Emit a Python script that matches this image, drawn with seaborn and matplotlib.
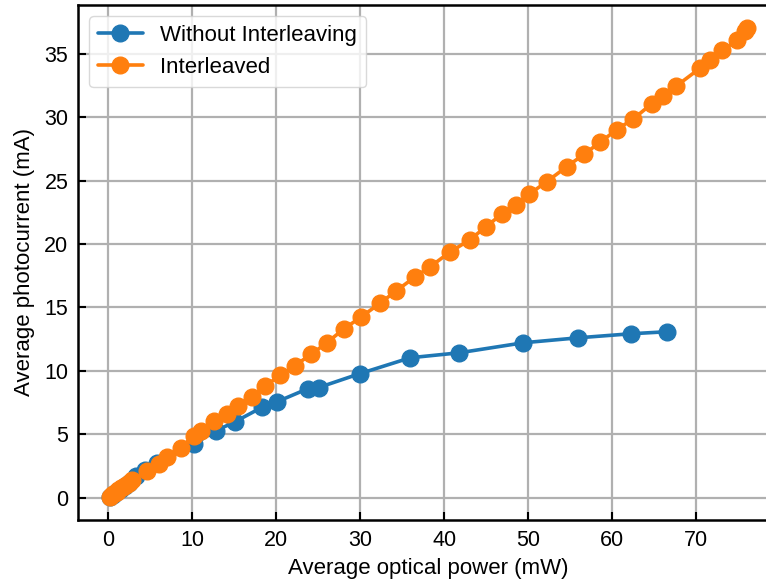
import matplotlib
matplotlib.use("Agg")
import matplotlib.pyplot as plt
import seaborn as sns
import pandas as pd

# Without Interleaving
power_without = [0.2, 0.5, 0.8, 1.1, 1.5, 2.0, 2.5, 3.25, 4.4, 5.83,
                 10.18, 12.76, 15.05, 18.31, 20.05, 23.78, 25.04, 29.96,
                 35.95, 41.77, 49.4, 55.9, 62.2, 66.5]
current_without = [0.08, 0.22, 0.37, 0.5, 0.7, 0.93, 1.17, 1.71, 2.2, 2.76,
                   4.21, 5.26, 5.97, 7.13, 7.55, 8.6, 8.68, 9.78,
                   11.03, 11.42, 12.21, 12.6, 12.92, 13.08]

# Interleaved
power_inter = [0.2, 0.4, 0.6, 0.8, 1.0, 1.2, 1.5, 1.8, 2.1, 2.4, 2.8,
               4.64, 6.02, 7.02, 8.6, 10.18, 11.0, 12.56, 14.07, 15.46,
               17.12, 18.70, 20.49, 22.16, 24.18, 26.04, 28.01, 30.12,
               32.30, 34.28, 36.54, 38.32, 40.62, 43.0, 44.98, 46.85,
               48.55, 50.1, 52.2, 54.58, 56.67, 58.54, 60.52, 62.5,
               64.68, 66.06, 67.6, 70.43, 71.62, 73.08, 74.79, 75.84, 76.0]
current_inter = [0.08, 0.18, 0.28, 0.38, 0.47, 0.57, 0.72, 0.86, 1.0, 1.15, 1.35,
                 2.11, 2.68, 3.21, 3.95, 4.87, 5.26, 6.05, 6.58, 7.24,
                 7.95, 8.82, 9.66, 10.39, 11.32, 12.23, 13.29, 14.26,
                 15.31, 16.31, 17.42, 18.21, 19.34, 20.32, 21.37, 22.37,
                 23.10, 23.93, 24.92, 26.10, 27.10, 28.02, 29.02, 29.87,
                 31.05, 31.7, 32.45, 33.86, 34.47, 35.26, 36.05, 36.76, 37.0]

labels = ["Without Interleaving", "Interleaved"]
colors = ["#1f77b4", "#ff7f0e"]

sns.set_theme(style="ticks")
plt.rcParams['font.family'] = ['Liberation Sans', 'DejaVu Sans']
plt.rcParams['text.color'] = 'black'
plt.rcParams['axes.labelcolor'] = 'black'
plt.rcParams['axes.grid'] = True
plt.rcParams['grid.color'] = '#b0b0b0'
plt.rcParams['grid.linewidth'] = 1.6
plt.rcParams['axes.edgecolor'] = 'black'
plt.rcParams['axes.linewidth'] = 1.8
plt.rcParams['xtick.direction'] = 'in'
plt.rcParams['ytick.direction'] = 'in'
plt.rcParams['xtick.color'] = 'black'
plt.rcParams['ytick.color'] = 'black'
plt.rcParams['xtick.labelcolor'] = 'black'
plt.rcParams['ytick.labelcolor'] = 'black'

fig = plt.figure(figsize=(7.66, 5.82), dpi=100)
ax = fig.add_axes([78.2 / 766, 62 / 582, (778.6 - 78.2) / 766, (520 - 5) / 582])

df_w = pd.DataFrame({"p": power_without, "c": current_without})
df_i = pd.DataFrame({"p": power_inter, "c": current_inter})

for df, lab, col in [(df_w, labels[0], colors[0]), (df_i, labels[1], colors[1])]:
    sns.lineplot(data=df, x="p", y="c", ax=ax, sort=False, color=col, label=lab,
                 marker="o", markersize=12, linewidth=2.6,
                 markeredgecolor=col, markeredgewidth=1.0)

ax.set_xticks([0, 10, 20, 30, 40, 50, 60, 70])
ax.set_yticks([0, 5, 10, 15, 20, 25, 30, 35])
ax.tick_params(labelsize=15.5, length=6, width=1.5, pad=7, colors='black')
ax.set_xlabel("Average optical power (mW)", fontsize=16, labelpad=5, color='black')
ax.set_ylabel("Average photocurrent (mA)", fontsize=16, labelpad=7, color='black')
ax.grid(True, color='#b0b0b0', linewidth=1.6)
for s in ax.spines.values():
    s.set_color('black')

leg = ax.legend(loc="upper left", fontsize=16, frameon=True, fancybox=True,
                framealpha=0.8, edgecolor='#d0d0d0', handlelength=2.0)
for t in leg.get_texts():
    t.set_color('black')

fig.savefig("out.png", dpi=100)
